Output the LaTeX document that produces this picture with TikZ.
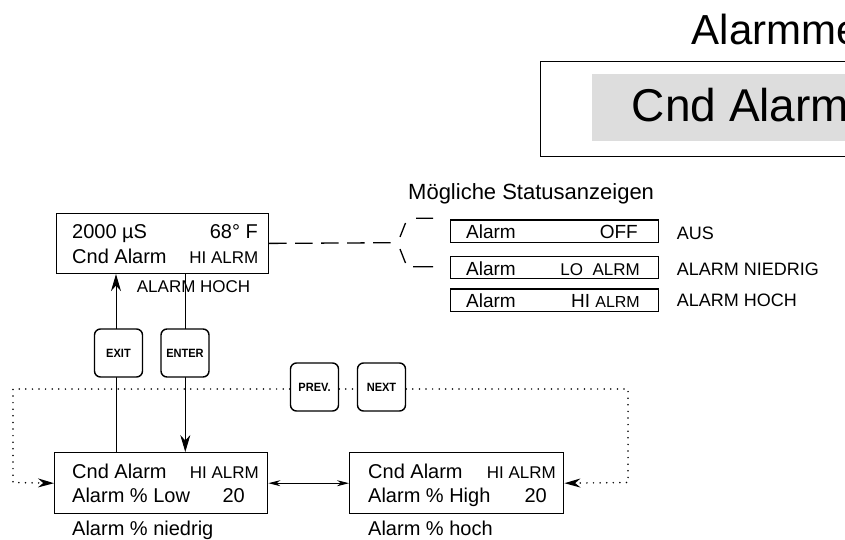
\documentclass[tikz,border=0pt]{standalone}
\usepackage{fontspec}
\setmainfont{Liberation Sans}
\newfontfamily\keyfont{Liberation Sans}[FakeStretch=0.92]
\usetikzlibrary{arrows.meta}
\definecolor{boxgray}{RGB}{221,221,221}
\newcommand{\fs}[1]{\fontsize{#1}{#1}\selectfont}
\tikzset{
  txt/.style={inner sep=0pt, anchor=base west},
  txtr/.style={inner sep=0pt, anchor=base east},
  lcd/.style={draw, line width=1.4pt, inner sep=0pt, anchor=north west},
  stbox/.style={draw, line width=1.2pt, inner sep=0pt, anchor=north west, minimum width=208pt, minimum height=22.5pt},
  keybox/.style={draw, line width=1.4pt, rounded corners=6pt, fill=white, inner sep=0pt,
    minimum width=48pt, minimum height=48pt, font=\keyfont\bfseries\fs{12}},
  conn/.style={line width=0.9pt},
  dotline/.style={line width=1.7pt, line cap=round, dash pattern=on 0pt off 6.6pt},
  dashline/.style={line width=1.3pt, dash pattern=on 17.5pt off 8.5pt},
}
\begin{document}
\begin{tikzpicture}[x=1pt,y=-1pt]
\useasboundingbox (0,0) rectangle (845,540);
\clip (0,0) rectangle (845,540);

% top right header
\node[txt, font=\fs{42}] (title) at (691.7,45) {Alarmme};
\node[draw, line width=1.3pt, inner sep=0pt, anchor=north west, minimum width=330pt, minimum height=95pt] (hdr) at (540,60.7) {};
\node[fill=boxgray, inner sep=0pt, anchor=north west, minimum width=270pt, minimum height=66.7pt] (hdrfill) at (592,74) {};
\node[txt, font=\fs{46}] (hdrtxt) at (631.7,121.7) {Cnd Alarm};

% main display
\node[lcd, minimum width=212pt, minimum height=60pt] (main) at (55.7,212.7) {};
\node[txt, font=\fs{20}] (m1) at (72,238.3) {2000 µS};
\node[txtr, font=\fs{20}] (m2) at (258,238.3) {68° F};
\node[txt, font=\fs{20}] (m3) at (72,263.3) {Cnd Alarm};
\node[txtr, font=\fs{17}] (m4) at (258.5,263.3) {HI ALRM};
\node[txt, font=\fs{17}] (m5) at (136.7,292.7) {ALARM HOCH};

% possible states
\node[txt, font=\fs{22}] (poss) at (408,200) {Mögliche Statusanzeigen};
\coordinate (brk) at (397,242.7);
\draw[dashline] (main.east) -- (brk);
\coordinate (s1a) at (400,237); \coordinate (s1b) at (405.5,223);
\coordinate (s2a) at (400,249); \coordinate (s2b) at (405.5,263);
\coordinate (d1a) at (416,218.3); \coordinate (d1b) at (433,218.3);
\coordinate (d2a) at (413,266.7); \coordinate (d2b) at (433,266.7);
\draw[line width=1.3pt] (s1a) -- (s1b) (s2a) -- (s2b) (d1a) -- (d1b) (d2a) -- (d2b);

\node[stbox] (st1) at (450,219.3) {};
\node[stbox] (st2) at (450,255.7) {};
\node[stbox] (st3) at (450,288.3) {};
\node[txt, font=\fs{19}] (t1a) at (466,238.3) {Alarm};
\node[txtr, font=\fs{19}] (t1b) at (638,238.3) {OFF};
\node[txt, font=\fs{19}] (t2a) at (466,275) {Alarm};
\node[txtr, font=\fs{17}] (t2b) at (640,275) {LO\ \ ALRM};
\node[txt, font=\fs{19}] (t3a) at (466,307) {Alarm};
\node[txtr] (t3b) at (640,307) {\fs{19}HI\ \fs{16}ALRM};
\node[txt, font=\fs{18}] (l1) at (676.7,239) {AUS};
\node[txt, font=\fs{18}] (l2) at (676.7,275) {ALARM NIEDRIG};
\node[txt, font=\fs{18}] (l3) at (676.7,306.7) {ALARM HOCH};

% lower displays
\node[lcd, minimum width=213pt, minimum height=61pt] (lowL) at (54,452) {};
\node[txt, font=\fs{20}] (a1) at (72,478.5) {Cnd Alarm};
\node[txtr, font=\fs{17}] (a2) at (259,478.5) {HI ALRM};
\node[txt, font=\fs{20}] (a3) at (72,502.5) {Alarm \% Low};
\node[txtr, font=\fs{20}] (a4) at (245,502.5) {20};
\node[txt, font=\fs{20}] (a5) at (72,535.5) {Alarm \% niedrig};

\node[lcd, minimum width=214pt, minimum height=61pt] (lowR) at (349,452) {};
\node[txt, font=\fs{20}] (b1) at (368,478.5) {Cnd Alarm};
\node[txtr, font=\fs{17}] (b2) at (556,478.5) {HI ALRM};
\node[txt, font=\fs{20}] (b3) at (368,502.5) {Alarm \% High};
\node[txtr, font=\fs{20}] (b4) at (547,502.5) {20};
\node[txt, font=\fs{20}] (b5) at (368,535.5) {Alarm \% hoch};

% EXIT / ENTER connectors
\coordinate (exitx) at (116,0);
\coordinate (entx) at (185.3,0);
\draw[conn, -{Stealth[length=17pt,width=10pt]}] (lowL.north -| exitx) -- (main.south -| exitx);
\draw[conn, -{Stealth[length=17pt,width=10pt]}] (main.south -| entx) -- (lowL.north -| entx);

\node[keybox] (exit) at (118.5,353) {EXIT};
\node[keybox] (enter) at (185,353) {ENTER};
\node[keybox] (prev) at (314.5,387) {PREV.};
\node[keybox] (next) at (381.5,387) {NEXT};

% double arrow between lower displays
\draw[conn, {Stealth[length=12pt,width=6pt]}-{Stealth[length=12pt,width=6pt]}] (lowL.east) -- (lowR.west);

% dotted loop
\coordinate (dl1) at (13,389);
\coordinate (dl2) at (13,482.5);
\coordinate (dr1) at (628,389);
\coordinate (dr2) at (628,482.5);
\draw[dotline, -{Stealth[length=16pt,width=9pt]}] (prev.west |- dl1) -- (dl1) -- (dl2) -- (lowL.west);
\draw[dotline] (prev.east |- dl1) -- (next.west |- dl1);
\draw[dotline, -{Stealth[length=16pt,width=9pt]}] (next.east |- dr1) -- (dr1) -- (dr2) -- (lowR.east);
\end{tikzpicture}
\end{document}
